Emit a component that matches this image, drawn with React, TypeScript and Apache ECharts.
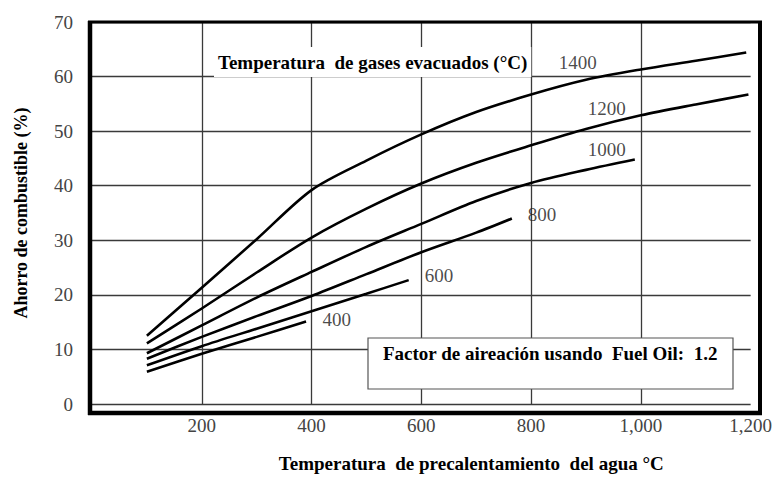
import React, { useEffect, useRef } from "react";
import * as echarts from "echarts";

// Curves: fuel savings (%) vs. water preheat temperature (°C), per flue-gas temperature
const gasTemps = ["1400", "1200", "1000", "800", "600", "400"];

const x1400 = [100, 200, 300, 400, 500, 600, 700, 800, 900, 1000, 1100, 1192];
const y1400 = [12.5, 21.3, 30.2, 39.2, 44.6, 49.4, 53.5, 56.7, 59.4, 61.3, 62.9, 64.4];

const x1200 = [100, 200, 300, 400, 500, 600, 700, 800, 900, 1000, 1100, 1196];
const y1200 = [11.1, 17.5, 24.1, 30.5, 35.8, 40.4, 44.2, 47.4, 50.4, 52.9, 54.9, 56.7];

const x1000 = [100, 200, 300, 400, 500, 600, 700, 800, 900, 989];
const y1000 = [9.3, 14.4, 19.5, 24.2, 28.8, 33.0, 37.2, 40.5, 42.9, 44.8];

const x800 = [100, 200, 300, 400, 500, 600, 700, 765];
const y800 = [8.3, 12.3, 16.1, 19.8, 23.8, 27.8, 31.4, 34.0];

const x600 = [100, 200, 300, 400, 500, 577];
const y600 = [7.1, 10.6, 13.8, 17.0, 20.2, 22.7];

const x400 = [100, 200, 300, 390];
const y400 = [5.9, 9.2, 12.3, 15.1];

// curve label anchor points (data units)
const labelX = [885, 938, 938, 820, 632, 446];
const labelY = [62.6, 54.2, 46.6, 34.7, 23.6, 15.5];

const xTitle = "Temperatura  de precalentamiento  del agua °C";
const yTitle = "Ahorro de combustible (%)";
const innerTitle = "Temperatura  de gases evacuados (°C)";
const factorNote = "Factor de aireación usando  Fuel Oil:  1.2";

const SERIF = "'Liberation Serif', 'Times New Roman', serif";

export default function App() {
  const ref = useRef<HTMLDivElement>(null);

  useEffect(() => {
    if (!ref.current) return;
    const chart = echarts.init(ref.current, null, { renderer: "svg" });

    const curves = [
      [x1400, y1400],
      [x1200, y1200],
      [x1000, y1000],
      [x800, y800],
      [x600, y600],
      [x400, y400],
    ];

    const lineSeries = curves.map(([xs, ys], i) => ({
      name: gasTemps[i],
      type: "line",
      data: xs.map((x, j) => [x, ys[j]]),
      showSymbol: false,
      smooth: 0.3,
      lineStyle: { color: "#000", width: 2.6 },
      z: 3,
    }));

    const labelSeries = {
      type: "scatter",
      symbolSize: 1,
      itemStyle: { color: "rgba(0,0,0,0)" },
      data: gasTemps.map((t, i) => [labelX[i], labelY[i], t]),
      label: {
        show: true,
        position: "inside",
        formatter: (p: any) => p.data[2],
        fontFamily: SERIF,
        fontSize: 19,
        color: "#1a1a1a",
      },
      z: 4,
    };

    const frame = (x1: number, y1: number, x2: number, y2: number, w: number) => ({
      type: "line",
      shape: { x1, y1, x2, y2 },
      style: { stroke: "#000", lineWidth: w },
      z: 50,
    });

    chart.setOption({
      animation: false,
      backgroundColor: "#fff",
      grid: { left: 92, right: 24, top: 22, bottom: 67 },
      xAxis: {
        type: "value",
        min: 0,
        max: 1200,
        interval: 200,
        axisLine: { show: false },
        axisTick: { show: false },
        axisLabel: {
          showMinLabel: false,
          margin: 12,
          fontFamily: SERIF,
          fontSize: 19,
          color: "#444",
          formatter: (v: number) => (v === 0 ? "" : v.toLocaleString("en-US")),
        },
        splitLine: {
          show: true,
          showMinLine: false,
          showMaxLine: false,
          lineStyle: { color: "#3a3a3a", width: 1.3 },
        },
        name: xTitle,
        nameLocation: "middle",
        nameGap: 50,
        nameTextStyle: {
          fontFamily: SERIF,
          fontWeight: "bold",
          fontSize: 19,
          color: "#000",
          padding: [0, 0, 0, 100],
        },
      },
      yAxis: {
        type: "value",
        min: 0,
        max: 70,
        interval: 10,
        axisLine: { show: false },
        axisTick: { show: false },
        axisLabel: {
          margin: 19,
          fontFamily: SERIF,
          fontSize: 19,
          color: "#444",
          padding: [0, 0, 6, 0],
        },
        splitLine: { show: true, lineStyle: { color: "#3a3a3a", width: 1.3 } },
        name: yTitle,
        nameLocation: "middle",
        nameGap: 62,
        nameRotate: 90,
        nameTextStyle: {
          fontFamily: SERIF,
          fontWeight: "bold",
          fontSize: 18,
          color: "#000",
        },
      },
      series: [...lineSeries, labelSeries],
      graphic: [
        {
          type: "text",
          x: 214,
          y: 62,
          z: 20,
          style: {
            text: innerTitle,
            font: `bold 19px ${SERIF}`,
            fill: "#000",
            verticalAlign: "middle",
            backgroundColor: "#fff",
            padding: [6, 4, 5, 4],
          },
        },
        {
          type: "rect",
          shape: { x: 368, y: 338, width: 365, height: 51 },
          style: { fill: "#fff", stroke: "#555", lineWidth: 1.2 },
          z: 20,
        },
        {
          type: "text",
          x: 383,
          y: 353,
          z: 21,
          style: {
            text: factorNote,
            font: `bold 19px ${SERIF}`,
            fill: "#000",
            verticalAlign: "middle",
          },
        },
        frame(90, 21, 90, 415, 4.5),
        frame(88, 413, 762, 413, 4.5),
        frame(88, 22, 762, 22, 2.8),
        frame(760, 21, 760, 415, 4),
      ],
    });

    return () => chart.dispose();
  }, []);

  return (
    <div
      ref={ref}
      style={{ position: "fixed", left: 0, top: 0, width: 775, height: 478, background: "#fff" }}
    />
  );
}
